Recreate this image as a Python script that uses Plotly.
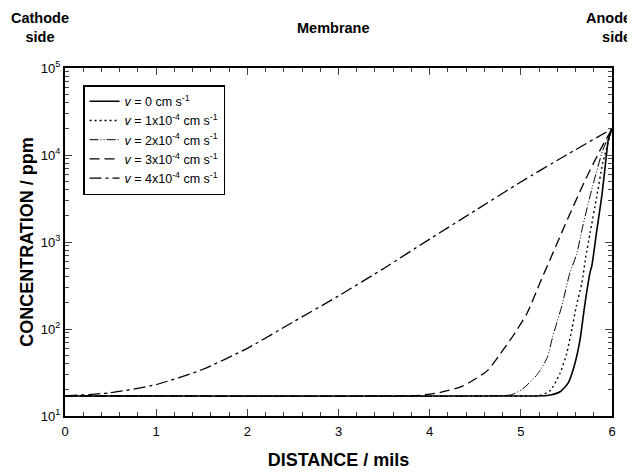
import plotly.graph_objects as go

# distance (mils) and concentration (ppm)
x_v0 = [0, 5.0, 5.29, 5.43, 5.52, 5.59, 5.65, 5.70, 5.76, 5.78, 5.83, 5.89, 5.93, 5.96, 6.0]
c_v0 = [17, 17, 17.2, 19, 24, 39, 76, 185, 450, 540, 1280, 3500, 8200, 15000, 20000]

x_v1 = [0, 4.9, 5.21, 5.32, 5.43, 5.50, 5.56, 5.61, 5.67, 5.71, 5.76, 5.83, 5.90, 6.0]
c_v1 = [17, 17, 17.3, 19.5, 31, 51, 100, 185, 340, 650, 1280, 3200, 8200, 20000]

x_v2 = [0, 4.6, 4.9, 5.02, 5.18, 5.29, 5.35, 5.45, 5.54, 5.61, 5.68, 5.79, 5.90, 6.0]
c_v2 = [17, 17, 17.6, 20.5, 30, 47, 82, 185, 450, 710, 1530, 4500, 11400, 20000]

x_v3 = [0, 3.5, 3.89, 4.1, 4.36, 4.63, 4.77, 4.91, 5.07, 5.21, 5.34, 5.48, 5.68, 5.87, 6.0]
c_v3 = [17, 17, 17.3, 18.5, 22, 33, 51, 82, 153, 340, 700, 1530, 4500, 11400, 20000]

x_v4 = [0, 0.5, 1.0, 1.5, 2.0, 2.5, 3.0, 3.5, 4.0, 4.5, 5.0, 5.5, 6.0]
c_v4 = [17, 18.5, 23, 34, 60, 120, 240, 500, 1080, 2300, 4900, 10000, 20000]

series_names = [
    "<i>v</i> = 0 cm s<sup>-1</sup>",
    "<i>v</i> = 1x10<sup>-4</sup> cm s<sup>-1</sup>",
    "<i>v</i> = 2x10<sup>-4</sup> cm s<sup>-1</sup>",
    "<i>v</i> = 3x10<sup>-4</sup> cm s<sup>-1</sup>",
    "<i>v</i> = 4x10<sup>-4</sup> cm s<sup>-1</sup>",
]

y_tickvals = [10, 100, 1000, 10000, 100000]
y_ticktext = ["10<sup>1</sup>", "10<sup>2</sup>", "10<sup>3</sup>", "10<sup>4</sup>", "10<sup>5</sup>"]
x_tickvals = [0, 1, 2, 3, 4, 5, 6]

styles = [
    dict(dash="solid", width=1.6),
    dict(dash="2px,3px", width=1.4),
    dict(dash="9px,2px,1px,2px,1px,2px", width=1.0),
    dict(dash="10px,5px", width=1.3),
    dict(dash="12px,4px,3px,4px", width=1.3),
]

xs = [x_v0, x_v1, x_v2, x_v3, x_v4]
cs = [c_v0, c_v1, c_v2, c_v3, c_v4]

fig = go.Figure()
for xv, cv, nm, st in zip(xs, cs, series_names, styles):
    fig.add_trace(go.Scatter(
        x=xv, y=cv, mode="lines", name=nm,
        line=dict(color="black", width=st["width"], dash=st["dash"], shape="spline", smoothing=0.6),
    ))

font_family = "Liberation Sans, Arial, sans-serif"

# page body has an 8px margin, so the figure is drawn 8px smaller
fig.update_layout(
    width=627, height=467,
    margin=dict(l=57, r=23, t=60, b=59),
    paper_bgcolor="white", plot_bgcolor="white",
    font=dict(family=font_family, color="black", size=13),
    showlegend=True,
    legend=dict(
        x=0.033, y=0.951, xanchor="left", yanchor="top",
        bordercolor="black", borderwidth=1.5, bgcolor="white",
        font=dict(size=12.5, family=font_family, color="black"),
        tracegroupgap=0, itemwidth=30,
    ),
)

fig.update_xaxes(
    range=[0, 6], tickvals=x_tickvals, ticks="inside", ticklen=7, tickwidth=1,
    showline=True, linecolor="black", linewidth=2, mirror="allticks",
    showgrid=False, zeroline=False, automargin=False,
    minor=dict(dtick=0.2, ticks="inside", ticklen=4, tickwidth=1, showgrid=False),
    tickfont=dict(size=13), ticklabelstandoff=2,
    title=dict(text="<b>DISTANCE / mils</b>", font=dict(size=18), standoff=16),
)
fig.update_yaxes(
    type="log", range=[1, 5], tickvals=y_tickvals, ticktext=y_ticktext,
    ticks="inside", ticklen=7, tickwidth=1,
    showline=True, linecolor="black", linewidth=2, mirror="allticks",
    showgrid=False, zeroline=False, automargin=False,
    minor=dict(dtick="D1", ticks="inside", ticklen=4, tickwidth=1, showgrid=False),
    tickfont=dict(size=13),
    title=dict(text="<b>CONCENTRATION / ppm</b>", font=dict(size=18), standoff=3),
)

ann_font = dict(size=14.5, family=font_family, color="black")
fig.add_annotation(text="<b>Cathode<br>side</b>", xref="paper", yref="paper",
                   x=(40 - 65) / 547, y=(416 - 27) / 348, showarrow=False,
                   font=ann_font, xanchor="center", yanchor="middle", align="center")
fig.add_annotation(text="<b>Membrane</b>", xref="paper", yref="paper",
                   x=(333 - 65) / 547, y=(416 - 28) / 348, showarrow=False,
                   font=ann_font, xanchor="center", yanchor="middle")
fig.add_annotation(text="<b>Anode<br>side</b>", xref="paper", yref="paper",
                   x=(633 - 65) / 547, y=(416 - 27) / 348, showarrow=False,
                   font=ann_font, xanchor="right", yanchor="middle", align="right")

fig.write_html("out.html")
